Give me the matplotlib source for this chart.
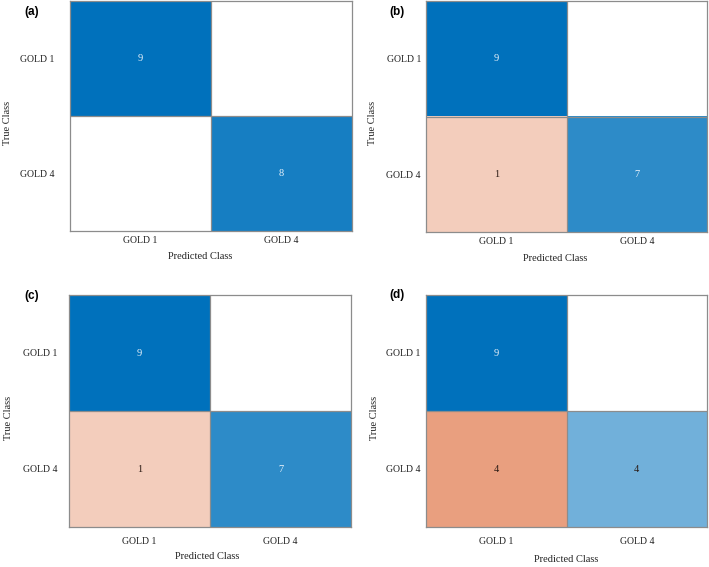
import numpy as np
import matplotlib
matplotlib.use("Agg")
import matplotlib.pyplot as plt

classes = ["GOLD 1", "GOLD 4"]
panel_labels = ["(a)", "(b)", "(c)", "(d)"]
cm_a = [[9, 0], [0, 8]]
cm_b = [[9, 0], [1, 7]]
cm_c = [[9, 0], [1, 7]]
cm_d = [[9, 0], [4, 4]]
matrices = [cm_a, cm_b, cm_c, cm_d]

diag_rgb = np.array([0.0, 0.447, 0.741])
off_rgb = np.array([0.85, 0.325, 0.098])

serif = ["Liberation Serif", "DejaVu Serif"]

fig = plt.figure(figsize=(7.09, 5.67), dpi=100)
W, H = 709.0, 567.0

# pixel boxes: left, top, right, bottom
boxes = [(70, 1, 352, 231), (426, 1, 707, 232), (69, 295, 351, 527), (426, 295, 707, 527)]
ylab_x = [-0.223, -0.192, -0.213, -0.185]
xlab = [(0.46, -0.113), (0.459, -0.113), (0.49, -0.129), (0.50, -0.138)]
ypads = [11.5, 3.6, 8.6, 4.3]
xpads = [3.6, 3.6, 7.2, 7.2]
letter_pos = [(32, 12), (397, 12), (32, 296), (397, 295)]


def cell_color(v, vmax, on_diag):
    if v == 0:
        return np.array([1.0, 1.0, 1.0])
    a = 0.2 + 0.8 * v / vmax
    base = diag_rgb if on_diag else off_rgb
    return 1 - (1 - base) * a


for k, cm in enumerate(matrices):
    cm = np.array(cm)
    l, t, r, b = boxes[k]
    ax = fig.add_axes([l / W, 1 - b / H, (r - l) / W, (b - t) / H])
    vmax = cm.max()
    n = cm.shape[0]
    rgb = np.zeros((n, n, 3))
    for i in range(n):
        for j in range(n):
            rgb[i, j] = cell_color(cm[i, j], vmax, i == j)
    ax.imshow(rgb, aspect="auto", extent=(-0.5, n - 0.5, n - 0.5, -0.5), interpolation="nearest")
    for i in range(n):
        for j in range(n):
            v = cm[i, j]
            if v == 0:
                continue
            c = rgb[i, j]
            lum = 0.299 * c[0] + 0.587 * c[1] + 0.114 * c[2]
            tc = "#eaf2fa" if lum < 0.5 else "#2a1a14"
            ax.text(j, i, str(v), ha="center", va="center", fontsize=7.5,
                    family=serif, color=tc)
    for p in np.arange(0.5, n - 0.5, 1):
        ax.axhline(p, color="#8c8c8c", lw=0.9)
        ax.axvline(p, color="#8c8c8c", lw=0.9)
    for s in ax.spines.values():
        s.set_color("#8c8c8c")
        s.set_linewidth(0.9)
    ax.set_xticks(range(n))
    ax.set_yticks(range(n))
    ax.set_xticklabels(classes, family=serif, fontsize=7, color="#222222")
    ax.set_yticklabels(classes, family=serif, fontsize=7, color="#222222")
    ax.tick_params(axis="x", length=0, pad=xpads[k])
    ax.tick_params(axis="y", length=0, pad=ypads[k])
    ax.set_xlabel("Predicted Class", family=serif, fontsize=7.5, color="#222222")
    ax.xaxis.set_label_coords(*xlab[k])
    ax.xaxis.label.set_verticalalignment("center")
    ax.set_ylabel("True Class", family=serif, fontsize=7.5, color="#222222")
    ax.yaxis.set_label_coords(ylab_x[k], 0.47)
    ax.yaxis.label.set_verticalalignment("center")
    lx, ly = letter_pos[k]
    fig.text(lx / W, 1 - ly / H, panel_labels[k], ha="center", va="center",
             fontsize=8.5, fontweight="bold", family=["Liberation Sans", "DejaVu Sans"])

fig.savefig("out.png", dpi=100)
